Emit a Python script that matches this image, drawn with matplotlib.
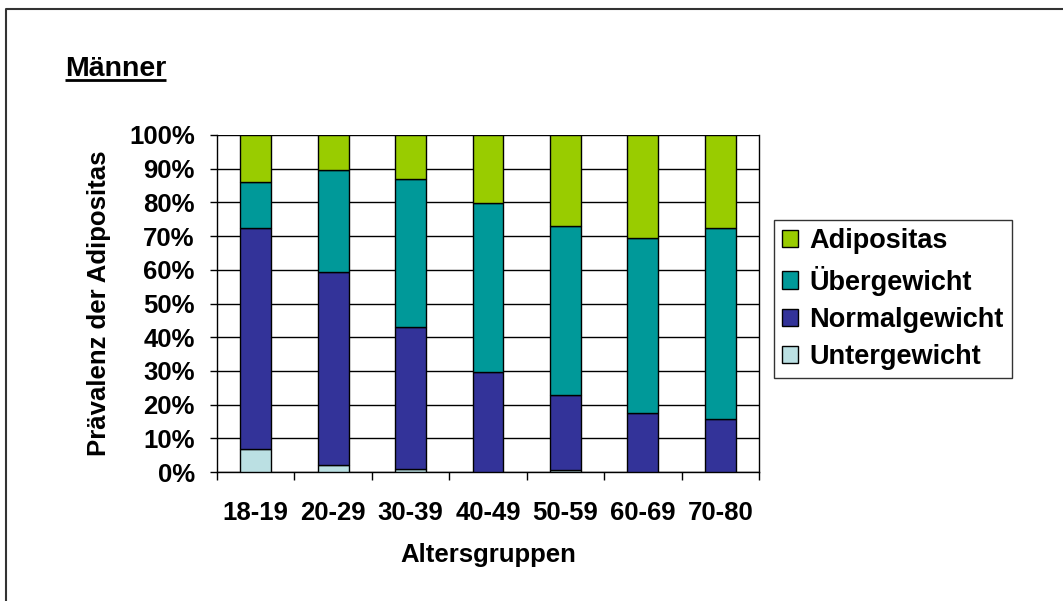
import matplotlib
matplotlib.use("Agg")
import matplotlib.pyplot as plt
from matplotlib.patches import Patch
from matplotlib.lines import Line2D
import numpy as np

plt.rcParams['font.family'] = ['Liberation Sans', 'DejaVu Sans']
plt.rcParams['font.weight'] = 'bold'

groups = ["18-19", "20-29", "30-39", "40-49", "50-59", "60-69", "70-80"]
untergewicht = [6.7, 2.0, 0.8, 0.0, 0.5, 0.0, 0.0]
normalgewicht = [65.6, 57.3, 42.1, 29.7, 22.3, 17.6, 15.6]
uebergewicht = [13.7, 30.3, 43.9, 50.2, 50.2, 51.9, 56.7]
adipositas = [14.0, 10.4, 13.2, 20.1, 27.0, 30.5, 27.7]

series = [
    ("Untergewicht", untergewicht, "#BBE0E3"),
    ("Normalgewicht", normalgewicht, "#333399"),
    ("Übergewicht", uebergewicht, "#009999"),
    ("Adipositas", adipositas, "#99CC00"),
]

W, H = 1063, 601
fig = plt.figure(figsize=(W / 100, H / 100), dpi=100)
ax = fig.add_axes([217 / W, (H - 472) / H, 542 / W, 337 / H])

x = np.arange(len(groups))
bottom = np.zeros(len(groups))
for name, vals, col in series:
    v = np.array(vals)
    ax.bar(x, v, width=0.4, bottom=bottom, color=col, edgecolor="black",
           linewidth=1.0, zorder=3, label=name)
    bottom += v

ax.set_xlim(-0.5, len(groups) - 0.5)
ax.set_ylim(0, 100)

# horizontal grid at every 10 %
ax.set_yticks(np.arange(0, 101, 10))
ax.set_yticklabels([f"{t}%" for t in range(0, 101, 10)])
ax.yaxis.grid(True, color="black", linewidth=1.0, zorder=0)
ax.set_axisbelow(True)

ax.set_xticks(x)
ax.set_xticklabels(groups)
ax.set_xticks(np.arange(-0.5, len(groups), 1.0), minor=True)
ax.tick_params(axis="x", which="major", length=0, pad=21, labelsize=18.5)
ax.tick_params(axis="x", which="minor", length=6, width=1.0, direction="out")
ax.tick_params(axis="y", length=5, width=1.0, direction="out", pad=11, labelsize=18.5)

for s in ["left", "bottom", "right"]:
    ax.spines[s].set_color("black")
    ax.spines[s].set_linewidth(1.0)
ax.spines["top"].set_visible(False)

ax.set_xlabel("Altersgruppen", fontsize=18.5, fontweight="bold", labelpad=13)
ax.set_ylabel("Prävalenz der Adipositas", fontsize=18.5, fontweight="bold", labelpad=13)

# legend, top entry first
handles = [Patch(facecolor=col, edgecolor="black", linewidth=1.0)
           for _, _, col in series][::-1]
labels = [name for name, _, _ in series][::-1]
leg = fig.legend(handles, labels, loc="upper left",
                 bbox_to_anchor=(774 / W, 1 - 220 / H),
                 fontsize=19.5, frameon=True, fancybox=False,
                 edgecolor="black", handlelength=0.6, handleheight=0.6,
                 handletextpad=0.4, labelspacing=0.42, borderpad=0.3,
                 borderaxespad=0)
leg.get_frame().set_linewidth(1.0)
for t in leg.get_texts():
    t.set_fontweight("bold")

# title with underline
title = fig.text(65 / W, 1 - 76 / H, "Männer", fontsize=20.5, fontweight="bold",
                 ha="left", va="baseline")
fig.canvas.draw()
bb = title.get_window_extent()
fig.add_artist(Line2D([bb.x0 / W, bb.x1 / W], [(H - 79.5) / H, (H - 79.5) / H],
                      color="black", linewidth=2.0, solid_capstyle="butt",
                      transform=fig.transFigure))

# outer frame along top and left edges
fig.add_artist(Line2D([6 / W, 6 / W, 1.0], [0.0, 1 - 9 / H, 1 - 9 / H],
                      color="#333333", linewidth=1.5, transform=fig.transFigure))

fig.savefig("out.png", dpi=100)
